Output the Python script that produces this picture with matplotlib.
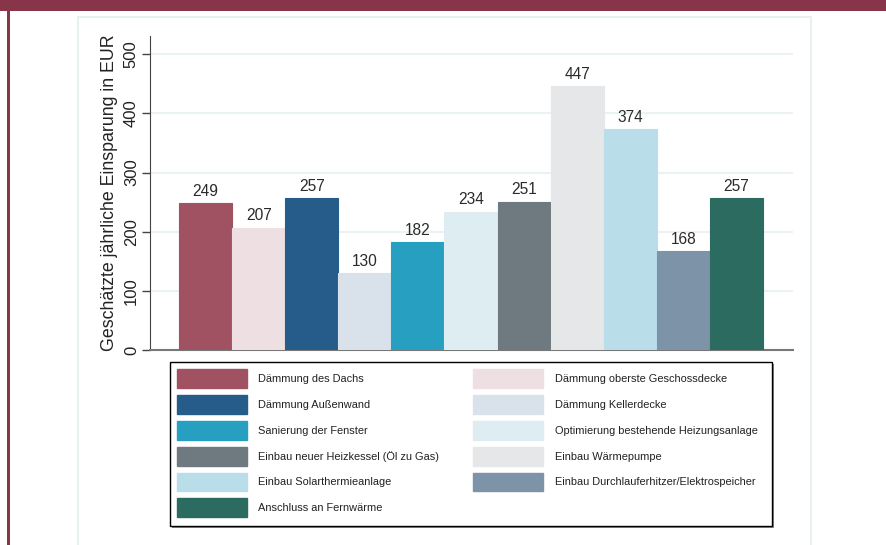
import matplotlib.pyplot as plt
from matplotlib.patches import Patch, Rectangle

plt.rcParams['font.family'] = ['Liberation Sans', 'DejaVu Sans']

# Massnahmen und geschaetzte jaehrliche Einsparung (EUR)
massnahmen = ['Dämmung des Dachs', 'Dämmung oberste Geschossdecke',
              'Dämmung Außenwand', 'Dämmung Kellerdecke',
              'Sanierung der Fenster', 'Optimierung bestehende Heizungsanlage',
              'Einbau neuer Heizkessel (Öl zu Gas)', 'Einbau Wärmepumpe',
              'Einbau Solarthermieanlage', 'Einbau Durchlauferhitzer/Elektrospeicher',
              'Anschluss an Fernwärme']
einsparung = [249, 207, 257, 130, 182, 234, 251, 447, 374, 168, 257]
farben = ['#A05262', '#EEDFE2', '#265C89', '#D9E2EA', '#269FC0', '#DDEDF2',
          '#6E7A80', '#E6E7E9', '#B9DEEA', '#7D93A8', '#2C6C60']
yticks = [0, 100, 200, 300, 400, 500]

W, H = 886, 545
fig = plt.figure(figsize=(W / 100, H / 100), dpi=100)


def fig_rect(x0, y0, x1, y1, **kw):
    # Rechteck in Pixelkoordinaten (oben links = 0,0)
    r = Rectangle((x0 / W, 1 - y1 / H), (x1 - x0) / W, (y1 - y0) / H,
                  transform=fig.transFigure, **kw)
    fig.patches.append(r)
    return r


# Rahmen / Hintergrund
fig_rect(0, 0, W, 11, facecolor='#883449', edgecolor='none', zorder=-2)
fig_rect(7, 11, 10, H, facecolor='#883449', edgecolor='none', zorder=-2)
fig_rect(78, 17, 811, H + 20, facecolor='white', edgecolor='#E9F0F0', lw=1.5, zorder=-2)

ax = fig.add_axes([150 / W, 1 - 350 / H, (793 - 150) / W, (350 - 36) / H])
ax.set_facecolor('none')

x = list(range(len(einsparung)))
ax.bar(x, einsparung, width=1.0, color=farben, edgecolor=farben,
       linewidth=0.8, zorder=3)
for xi, v in zip(x, einsparung):
    ax.text(xi, v + 7, str(v), ha='center', va='bottom', fontsize=11.2,
            color='#2a2a2a', zorder=4)

ax.set_xlim(-1.046, 11.065)
ax.set_ylim(0, 531)
ax.set_yticks(yticks)
ax.set_yticklabels([str(t) for t in yticks], rotation=90, va='center',
                   fontsize=12, color='#222222')
ax.tick_params(axis='y', length=6, width=1, color='#444444', pad=2)
ax.set_xticks([])
ax.grid(axis='y', color='#EAF2F3', lw=1.5, zorder=0)
ax.spines['top'].set_visible(False)
ax.spines['right'].set_visible(False)
ax.spines['left'].set_color('#444444')
ax.spines['bottom'].set_color('#777777')
ax.spines['bottom'].set_linewidth(1.5)
ax.set_ylabel('Geschätzte jährliche Einsparung in EUR', fontsize=12.8,
              color='#222222', labelpad=4)

# Legendenrahmen mit Schatten
fig_rect(172, 364, 774, 528, facecolor='#8a8a8a', edgecolor='none', zorder=1)
fig_rect(170, 362, 772, 526, facecolor='white', edgecolor='black', lw=1, zorder=2)

# Legende: zeilenweise Reihenfolge
handles = [Patch(facecolor=c, edgecolor=c, label=m) for c, m in zip(farben, massnahmen)]
order = [0, 2, 4, 6, 8, 10, 1, 3, 5, 7, 9]
leg = fig.legend([handles[i] for i in order], [massnahmen[i] for i in order],
                 loc='upper left', bbox_to_anchor=(177 / W, 1 - 369 / H),
                 ncol=2, fontsize=7.9, frameon=False,
                 borderaxespad=0, borderpad=0, handlelength=6.36,
                 handleheight=2.27, labelspacing=0.64, handletextpad=1.05,
                 columnspacing=3.1)
leg.set_zorder(3)
for t in leg.get_texts():
    t.set_color('#222222')

fig.savefig('out.png', dpi=100)
